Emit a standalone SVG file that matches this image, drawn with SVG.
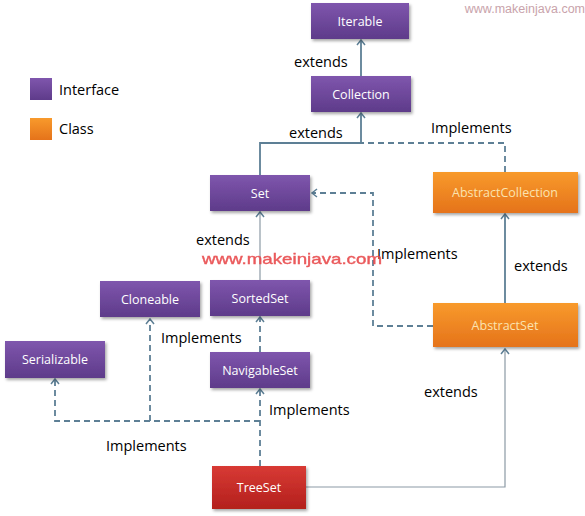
<svg xmlns="http://www.w3.org/2000/svg" width="585" height="516" viewBox="0 0 585 516">
<defs>
<linearGradient id="gPurple" x1="0" y1="0" x2="0" y2="1">
<stop offset="0" stop-color="#7f56ad"/>
<stop offset="1" stop-color="#5e3b8a"/>
</linearGradient>
<linearGradient id="gOrange" x1="0" y1="0" x2="0" y2="1">
<stop offset="0" stop-color="#f89a2c"/>
<stop offset="1" stop-color="#e5731a"/>
</linearGradient>
<linearGradient id="gRed" x1="0" y1="0" x2="0" y2="1">
<stop offset="0" stop-color="#d83a34"/>
<stop offset="1" stop-color="#b3201d"/>
</linearGradient>
<filter id="sh" x="-10%" y="-20%" width="125%" height="150%">
<feDropShadow dx="1.5" dy="2" stdDeviation="1.5" flood-color="#000" flood-opacity="0.35"/>
</filter>
<marker id="arr" viewBox="-6 -6 8 12" markerWidth="8" markerHeight="12" refX="0" refY="0" orient="auto" markerUnits="userSpaceOnUse">
<path d="M-5,-4 L0,0 L-5,4" fill="none" stroke="#5d7f95" stroke-width="1.5"/>
</marker>
</defs>
<style>
.ifc{fill:url(#gPurple);filter:url(#sh)}
.cls{fill:url(#gOrange);filter:url(#sh)}
.red{fill:url(#gRed);filter:url(#sh)}
.nt{font-family:"Open Sans","Noto Sans",sans-serif;font-size:12.5px;fill:#ffffff;text-anchor:middle}
.ct{font-family:"Open Sans","Noto Sans",sans-serif;font-size:12.5px;fill:#fbe3b0;text-anchor:middle}
.lbl{font-family:"Open Sans","Noto Sans",sans-serif;font-size:14.5px;fill:#000000}
.solid{fill:none;stroke:#5d7f95;stroke-width:1.8}
.thin{fill:none;stroke:#8c9aa5;stroke-width:1.2}
.dash{fill:none;stroke:#5d7f95;stroke-width:1.8;stroke-dasharray:6 4}
</style>
<rect width="585" height="516" fill="#ffffff"/>
<text x="585" y="13" font-family="Liberation Sans,Arial,sans-serif" font-size="12.5" fill="#c9a3ab" text-anchor="end">www.makeinjava.com</text>
<g id="legend">
<rect x="30" y="78" width="22" height="22" fill="url(#gPurple)"/>
<text class="lbl" x="59" y="95">Interface</text>
<rect x="30" y="118" width="22" height="22" fill="url(#gOrange)"/>
<text class="lbl" x="59" y="134">Class</text>
</g>
<g id="connectors">
<line class="solid" x1="361" y1="76" x2="361" y2="40" marker-end="url(#arr)"/>
<polyline class="solid" points="260,175 260,143 361,143 361,113" marker-end="url(#arr)"/>
<polyline class="dash" points="505,172 505,143 361,143"/>
<line class="thin" x1="260" y1="280" x2="260" y2="212" marker-end="url(#arr)"/>
<polyline class="dash" points="433,326 373,326 373,193 312,193" marker-end="url(#arr)"/>
<line class="solid" x1="505" y1="303" x2="505" y2="214" marker-end="url(#arr)"/>
<line class="dash" x1="260" y1="352" x2="260" y2="317" marker-end="url(#arr)"/>
<line class="dash" x1="260" y1="466" x2="260" y2="389" marker-end="url(#arr)"/>
<polyline class="dash" points="260,421 55,421 55,379" marker-end="url(#arr)"/>
<line class="dash" x1="150" y1="421" x2="150" y2="319" marker-end="url(#arr)"/>
<polyline class="thin" points="306,487 505,487 505,349" marker-end="url(#arr)"/>
<text class="lbl" x="294" y="67">extends</text>
<text class="lbl" x="289" y="138">extends</text>
<text class="lbl" x="431" y="133">Implements</text>
<text class="lbl" x="196" y="245">extends</text>
<text class="lbl" x="377" y="259">Implements</text>
<text class="lbl" x="514" y="271">extends</text>
<text class="lbl" x="161" y="343">Implements</text>
<text class="lbl" x="269" y="415">Implements</text>
<text class="lbl" x="424" y="397">extends</text>
<text class="lbl" x="106" y="451">Implements</text>
</g>
<g id="Iterable"><rect class="ifc" x="311" y="3" width="98" height="36"/><text class="nt" x="360" y="26">Iterable</text></g>
<g id="Collection"><rect class="ifc" x="311" y="76" width="100" height="36"/><text class="nt" x="361" y="99">Collection</text></g>
<g id="Set"><rect class="ifc" x="210" y="175" width="100" height="36"/><text class="nt" x="260" y="198">Set</text></g>
<g id="AbstractCollection"><rect class="cls" x="433" y="172" width="145" height="41"/><text class="ct" x="505" y="197">AbstractCollection</text></g>
<g id="SortedSet"><rect class="ifc" x="210" y="280" width="100" height="36"/><text class="nt" x="260" y="303">SortedSet</text></g>
<g id="Cloneable"><rect class="ifc" x="100" y="281" width="100" height="36"/><text class="nt" x="150" y="304">Cloneable</text></g>
<g id="Serializable"><rect class="ifc" x="5" y="341" width="100" height="37"/><text class="nt" x="55" y="364">Serializable</text></g>
<g id="NavigableSet"><rect class="ifc" x="210" y="352" width="100" height="36"/><text class="nt" x="260" y="375">NavigableSet</text></g>
<g id="AbstractSet"><rect class="cls" x="433" y="303" width="145" height="44"/><text class="ct" x="505" y="330">AbstractSet</text></g>
<g id="TreeSet"><rect class="red" x="212" y="466" width="94" height="43"/><text class="nt" x="259" y="492">TreeSet</text></g>
<text x="202" y="264" font-family="Liberation Sans,Arial,sans-serif" font-size="14.5" textLength="180" lengthAdjust="spacingAndGlyphs" fill="#e8484a" stroke="#e8484a" stroke-width="0.4" opacity="0.9">www.makeinjava.com</text>
</svg>
